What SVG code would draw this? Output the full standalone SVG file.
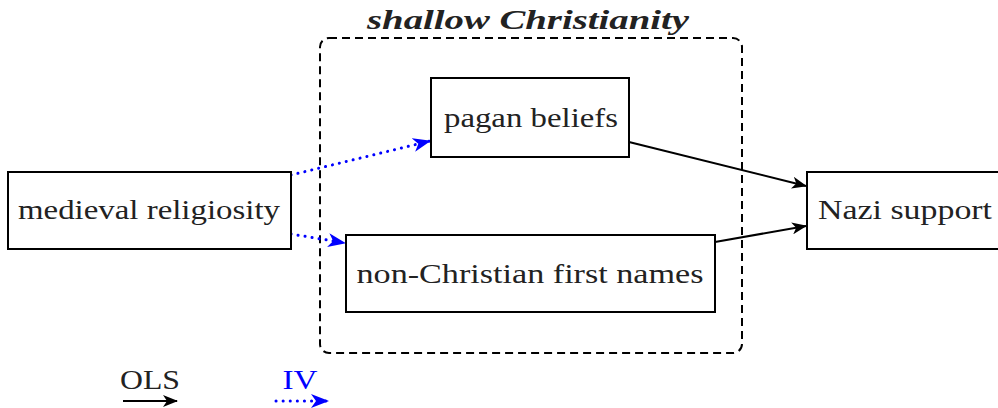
<svg xmlns="http://www.w3.org/2000/svg" width="998" height="408" viewBox="0 0 998 408">
<style>
.box{fill:#fff;stroke:#000;stroke-width:2}
.t{font-size:27px;fill:#222;text-anchor:middle}
.ols{fill:none;stroke:#000;stroke-width:2}
.iv{fill:none;stroke:#00f;stroke-width:3;stroke-dasharray:0.1 7;stroke-linecap:round}
</style>
<defs>
<marker id="ab" viewBox="0 0 15 12" refX="14" refY="6" markerWidth="15" markerHeight="12" markerUnits="userSpaceOnUse" orient="auto">
<path d="M0,0 L15,6 L0,12 L4,6 Z" fill="#000"/>
</marker>
<marker id="ablue" viewBox="0 0 18 14" refX="17" refY="7" markerWidth="18" markerHeight="14" markerUnits="userSpaceOnUse" orient="auto">
<path d="M0,0 L18,7 L0,14 L5,7 Z" fill="#00f"/>
</marker>
</defs>
<g font-family="Liberation Serif, Times New Roman, serif">
<g id="group-shallow">
<rect x="320" y="38" width="422" height="315" rx="9" fill="none" stroke="#000" stroke-width="2" stroke-dasharray="8 5"/>
<text x="528" y="29" class="t" font-style="italic" font-weight="bold" textLength="322" lengthAdjust="spacingAndGlyphs">shallow Christianity</text>
</g>
<g id="connectors">
<line class="iv" x1="291" y1="175" x2="430" y2="141" marker-end="url(#ablue)"/>
<line class="iv" x1="291" y1="234" x2="345" y2="243" marker-end="url(#ablue)"/>
<line class="ols" x1="629" y1="142" x2="806" y2="186" marker-end="url(#ab)"/>
<line class="ols" x1="715" y1="242" x2="806" y2="226" marker-end="url(#ab)"/>
</g>
<g id="medieval">
<rect class="box" x="8" y="172" width="283" height="77"/>
<text x="149" y="219" class="t" textLength="262" lengthAdjust="spacingAndGlyphs">medieval religiosity</text>
</g>
<g id="pagan">
<rect class="box" x="431" y="78" width="198" height="79"/>
<text x="531" y="127" class="t" textLength="174" lengthAdjust="spacingAndGlyphs">pagan beliefs</text>
</g>
<g id="names">
<rect class="box" x="346" y="235" width="369" height="77"/>
<text x="530" y="283" class="t" textLength="347" lengthAdjust="spacingAndGlyphs">non-Christian first names</text>
</g>
<g id="nazi">
<rect class="box" x="807" y="172" width="200" height="77"/>
<text x="905" y="219" class="t" textLength="174" lengthAdjust="spacingAndGlyphs">Nazi support</text>
</g>
<g id="legend">
<text x="150" y="389" class="t" textLength="60" lengthAdjust="spacingAndGlyphs">OLS</text>
<line class="ols" x1="123" y1="401" x2="177" y2="401" marker-end="url(#ab)"/>
<text x="300" y="389" class="t" fill="#00f" style="fill:#00f" textLength="35" lengthAdjust="spacingAndGlyphs">IV</text>
<line class="iv" x1="276" y1="401" x2="328" y2="401" marker-end="url(#ablue)"/>
</g>
</g>
</svg>
